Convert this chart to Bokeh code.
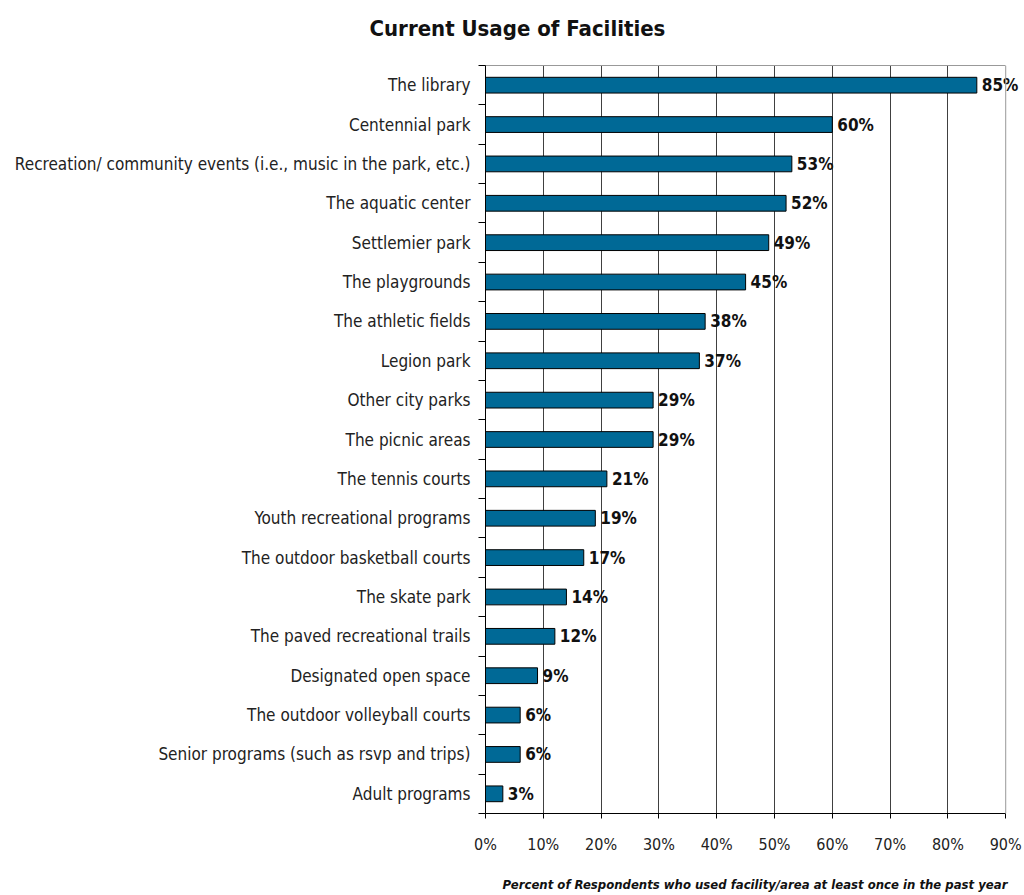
from bokeh.plotting import figure
from bokeh.models import FixedTicker, LabelSet, Range1d, ColumnDataSource, LinearAxis, Span
from bokeh.core.properties import value
from bokeh.embed import file_html
from bokeh.resources import INLINE

categories = [
    "The library",
    "Centennial park",
    "Recreation/ community events (i.e., music in the park, etc.)",
    "The aquatic center",
    "Settlemier park",
    "The playgrounds",
    "The athletic fields",
    "Legion park",
    "Other city parks",
    "The picnic areas",
    "The tennis courts",
    "Youth recreational programs",
    "The outdoor basketball courts",
    "The skate park",
    "The paved recreational trails",
    "Designated open space",
    "The outdoor volleyball courts",
    "Senior programs (such as rsvp and trips)",
    "Adult programs",
]
values = [85, 60, 53, 52, 49, 45, 38, 37, 29, 29, 21, 19, 17, 14, 12, 9, 6, 6, 3]
x_ticks = [0, 10, 20, 30, 40, 50, 60, 70, 80, 90]
x_tick_labels = ["0%", "10%", "20%", "30%", "40%", "50%", "60%", "70%", "80%", "90%"]
value_labels = [f"{v}%" for v in values]

title_text = "Current Usage of Facilities"
x_title = "Percent of Respondents who used facility/area at least once in the past year"

FONT = "DejaVu Sans Condensed"
BAR = "#006996"
X_MAX = 90

n = len(categories)
ypos = [n - 1 - i for i in range(n)]
src = ColumnDataSource(dict(y=ypos, v=values, lab=value_labels))

p = figure(width=1024, height=895, output_backend="svg", toolbar_location=None,
           x_range=Range1d(0, 93.25), y_range=Range1d(-0.5, n - 0.5),
           min_border_left=485, min_border_right=0, min_border_top=65,
           min_border_bottom=82, background_fill_color="white",
           border_fill_color="white")
p.outline_line_color = None

p.hbar(y="y", left=0, right="v", height=0.4, source=src,
       fill_color=BAR, line_color="black", line_width=1)

labels = LabelSet(x="v", y="y", text="lab", source=src, x_offset=5,
                  text_baseline="middle", text_font=value(FONT), text_font_style="bold",
                  text_font_size="17px", text_color="#111111")
p.add_layout(labels)

# x axis
p.xaxis.bounds = (0, X_MAX)
p.xaxis.ticker = FixedTicker(ticks=x_ticks)
p.xaxis.major_label_overrides = {t: l for t, l in zip(x_ticks, x_tick_labels)}
p.xaxis.major_tick_out = 5
p.xaxis.major_tick_in = 0
p.xaxis.minor_tick_out = 0
p.xaxis.minor_tick_in = 0
p.xaxis.major_label_standoff = 16
p.xaxis.major_label_text_font = FONT
p.xaxis.major_label_text_font_size = "16px"
p.xaxis.major_label_text_color = "#222222"
p.xaxis.axis_line_color = "black"
p.xaxis.major_tick_line_color = "black"
p.xaxis.axis_label = x_title
p.xaxis.axis_label_text_font = FONT
p.xaxis.axis_label_text_font_style = "bold italic"
p.xaxis.axis_label_text_font_size = "13px"
p.xaxis.axis_label_standoff = 20
p.xaxis.axis_label_text_color = "#111111"

# top border as an unlabelled axis limited to the plotted scale
top = LinearAxis(bounds=(0, X_MAX), ticker=FixedTicker(ticks=[]),
                 axis_line_color="#999999", major_tick_out=0, major_tick_in=0,
                 minor_tick_out=0, minor_tick_in=0, major_label_text_font_size="0px",
                 axis_label=" ", axis_label_standoff=3,
                 axis_label_text_font_size="12px")
p.add_layout(top, "above")
p.add_layout(Span(location=X_MAX, dimension="height", line_color="#999999", line_width=1))

# y axis
boundaries = [b - 0.5 for b in range(n + 1)]
p.yaxis.ticker = FixedTicker(ticks=ypos, minor_ticks=boundaries)
p.yaxis.major_label_overrides = {y: c for y, c in zip(ypos, categories)}
p.yaxis.major_tick_out = 0
p.yaxis.major_tick_in = 0
p.yaxis.minor_tick_out = 7
p.yaxis.minor_tick_in = 0
p.yaxis.minor_tick_line_color = "black"
p.yaxis.major_label_standoff = 8
p.yaxis.major_label_text_font = FONT
p.yaxis.major_label_text_font_size = "17px"
p.yaxis.major_label_text_color = "#222222"
p.yaxis.axis_line_color = "black"

p.ygrid.visible = False
p.xgrid.ticker = FixedTicker(ticks=x_ticks[:-1])
p.xgrid.grid_line_color = "#404040"
p.xgrid.grid_line_width = 1

p.title.text = title_text
p.title.align = "left"
p.title.offset = -116
p.title.standoff = 10
p.title.text_font = FONT
p.title.text_font_style = "bold"
p.title.text_font_size = "22px"
p.title.text_color = "#111111"

open("out.html", "w").write(file_html(p, INLINE))
